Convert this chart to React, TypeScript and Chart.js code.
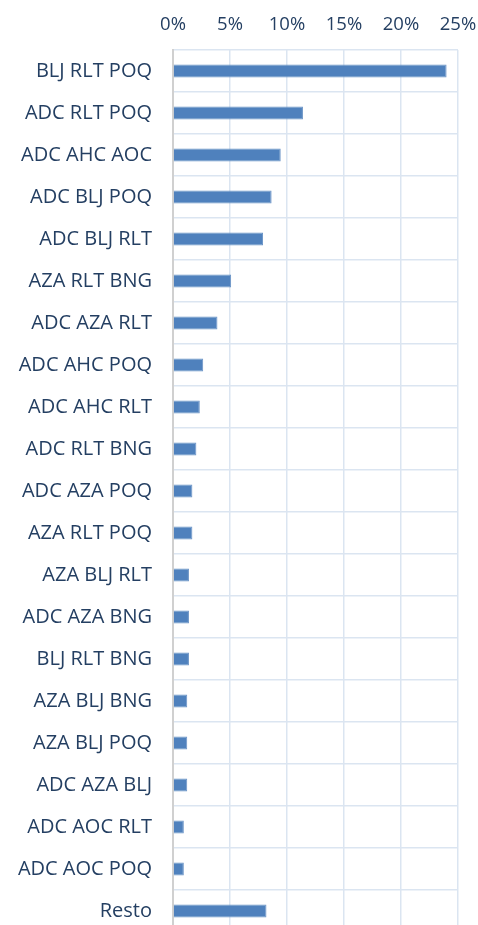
import React, { useEffect, useRef } from "react";
import { Chart, registerables } from "chart.js";

Chart.register(...registerables);

const categories = [
  "BLJ RLT POQ",
  "ADC RLT POQ",
  "ADC AHC AOC",
  "ADC BLJ POQ",
  "ADC BLJ RLT",
  "AZA RLT BNG",
  "ADC AZA RLT",
  "ADC AHC POQ",
  "ADC AHC RLT",
  "ADC RLT BNG",
  "ADC AZA POQ",
  "AZA RLT POQ",
  "AZA BLJ RLT",
  "ADC AZA BNG",
  "BLJ RLT BNG",
  "AZA BLJ BNG",
  "AZA BLJ POQ",
  "ADC AZA BLJ",
  "ADC AOC RLT",
  "ADC AOC POQ",
  "Resto",
];

const shares = [
  24.0, 11.4, 9.45, 8.65, 7.9, 5.1, 3.9, 2.65, 2.35, 2.05, 1.7, 1.7, 1.4, 1.4,
  1.4, 1.25, 1.25, 1.25, 0.95, 0.95, 8.2,
];

const xTicks = [0, 5, 10, 15, 20, 25];

const TEXT = "#243f62";
const GRID = "#dbe5f1";

export default function App() {
  const ref = useRef<HTMLCanvasElement | null>(null);

  useEffect(() => {
    if (!ref.current) return;
    const chart = new Chart(ref.current, {
      type: "bar",
      data: {
        labels: categories,
        datasets: [
          {
            data: shares,
            backgroundColor: "#4f81bd",
            borderColor: "#6a93c6",
            borderWidth: 1,
            categoryPercentage: 1,
            barPercentage: 0.31,
          },
        ],
      },
      options: {
        indexAxis: "y",
        animation: false,
        responsive: false,
        layout: { padding: { top: 0, right: 20, bottom: 3, left: 0 } },
        plugins: { legend: { display: false }, tooltip: { enabled: false } },
        scales: {
          x: {
            position: "top",
            min: 0,
            max: 25,
            afterBuildTicks: (scale: any) => {
              scale.ticks = xTicks.map((v) => ({ value: v }));
            },
            afterFit: (scale: any) => {
              scale.height = 50;
              scale.paddingLeft = 0;
              scale.paddingRight = 0;
            },
            ticks: {
              color: TEXT,
              font: { family: "Open Sans", size: 18.5 },
              padding: 14,
              callback: (v: any) => v + "%",
            },
            grid: {
              color: GRID,
              lineWidth: 1.5,
              drawTicks: false,
            },
            border: { display: false },
          },
          y: {
            afterFit: (scale: any) => {
              scale.width = 173;
              scale.paddingTop = 0;
              scale.paddingBottom = 0;
            },
            ticks: {
              color: TEXT,
              font: { family: "Open Sans", size: 20 },
              padding: 21,
            },
            grid: {
              color: GRID,
              lineWidth: 1.5,
              drawTicks: false,
              offset: true,
            },
            border: { display: true, color: "#d0d0d0", width: 2 },
          },
        },
      },
    });
    return () => chart.destroy();
  }, []);

  return (
    <div
      style={{
        position: "absolute",
        left: 0,
        top: 0,
        width: 478,
        height: 925,
        overflow: "hidden",
        background: "#fff",
      }}
    >
      <canvas ref={ref} width={478} height={935} style={{ display: "block" }} />
    </div>
  );
}
